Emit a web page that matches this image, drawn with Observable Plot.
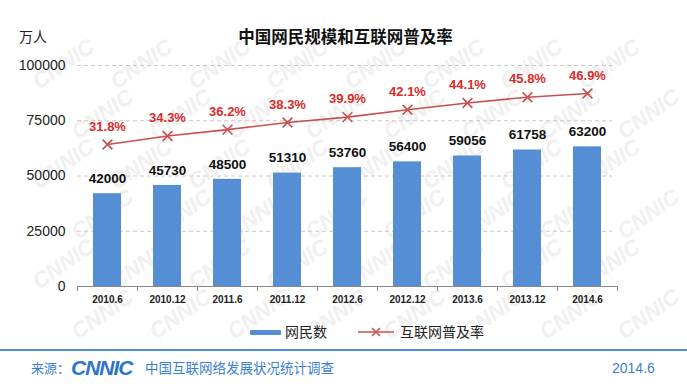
<!DOCTYPE html>
<html>
<head>
<meta charset="utf-8">
<script src="https://cdn.jsdelivr.net/npm/d3@7"></script>
<script src="https://cdn.jsdelivr.net/npm/@observablehq/plot@0.6"></script>
<style>
  html, body { margin: 0; padding: 0; background: #fff; }
  #wrap { position: relative; width: 687px; height: 387px; overflow: hidden; background: #fff;
          font-family: "Liberation Sans", Arial, "Noto Sans CJK SC", sans-serif; }
  #chart { position: absolute; left: 0; top: 0; }
  .abs { position: absolute; white-space: nowrap; line-height: 1; }
  .cjk { font-family: "Noto Sans CJK SC", "Liberation Sans", sans-serif; }
  #wm { position: absolute; left: 0; top: 0; pointer-events: none; }
</style>
</head>
<body>
<div id="wrap">
  <svg id="wm" width="687" height="387"></svg>
  <div id="chart"></div>
  <div class="abs cjk" style="left:19px; top:29px; font-size:14px; color:#222;">万人</div>
  <div class="abs cjk" style="left:0; width:687px; top:28px; text-align:center; font-size:16.5px; font-weight:bold; color:#111; padding-left:2px;">中国网民规模和互联网普及率</div>
  <!-- legend -->
  <div class="abs" style="left:250px; top:330px; width:31px; height:5px; background:#558ed5; border-radius:1px;"></div>
  <div class="abs cjk" style="left:285px; top:324px; font-size:14px; color:#222;">网民数</div>
  <svg class="abs" style="left:356px; top:325px;" width="40" height="14">
    <line x1="2" y1="7" x2="38" y2="7" stroke="#c8504f" stroke-width="1.5"/>
    <path d="M16,3L24,11M24,3L16,11" stroke="#c8504f" stroke-width="1.5"/>
  </svg>
  <div class="abs cjk" style="left:400px; top:324px; font-size:14px; color:#222;">互联网普及率</div>
  <!-- footer -->
  <div class="abs" style="left:0; top:349px; width:687px; height:2px; background:#4a8ede;"></div>
  <div class="abs cjk" style="left:31px; top:361px; font-size:13px; color:#3b7fd4;">来源：</div>
  <div class="abs" style="left:71px; top:357px; font-size:21px; font-weight:bold; font-style:italic; letter-spacing:-1px; color:#2d74cc; font-family:'Liberation Sans',Arial,sans-serif;">CNNIC</div>
  <div class="abs cjk" style="left:145px; top:361px; font-size:13.5px; color:#3b7fd4;">中国互联网络发展状况统计调查</div>
  <div class="abs" style="left:612px; top:361px; font-size:14px; color:#3b7fd4;">2014.6</div>
</div>
<script>
// ---- data ----
const periods = ["2010.6","2010.12","2011.6","2011.12","2012.6","2012.12","2013.6","2013.12","2014.6"];
const netizens = [42000,45730,48500,51310,53760,56400,59056,61758,63200];
const penetration = [31.8,34.3,36.2,38.3,39.9,42.1,44.1,45.8,46.9];
const yTicks = [0,25000,50000,75000,100000];
const yDomain = [0,100000];
// hidden secondary (percentage) axis range, mapped onto the primary axis
const pctDomain = [-10.22, 55.18];

const rows = periods.map((p,i) => ({period: p, value: netizens[i], pct: penetration[i]}));
const pctToY = d3.scaleLinear().domain(pctDomain).range(yDomain);

const W = 687, H = 387, mL = 77, mR = 70, mT = 65, mB = 101;
const half = (W - mL - mR) / periods.length / 2;

const chart = Plot.plot({
  width: W, height: H,
  marginLeft: mL, marginRight: mR, marginTop: mT, marginBottom: mB,
  style: {fontFamily: '"Liberation Sans", Arial, sans-serif', background: "transparent", overflow: "visible"},
  x: {domain: periods, paddingInner: 0.53, paddingOuter: 0.265, label: null},
  y: {domain: yDomain, label: null},
  marks: [
    Plot.ruleY(yTicks.filter(d => d > 0), {y: d => d, stroke: "#c8c8c8", strokeDasharray: "4,3", strokeWidth: 1, insetRight: 5}),
    Plot.axisY(yTicks, {tickSize: 0, tickPadding: 12, fontSize: 14, fill: "#222", label: null, tickFormat: d => String(d)}),
    Plot.barY(rows, {x: "period", y: "value", fill: "#558ed5"}),
    Plot.ruleY([0], {stroke: "#8a8a8a", strokeWidth: 1.2, insetRight: -1}),
    Plot.ruleX(periods, {x: d => d, y1: 0, y2: 0, dx: -half, insetBottom: -5, stroke: "#8a8a8a"}),
    Plot.ruleX(periods.slice(-1), {x: d => d, y1: 0, y2: 0, dx: half, insetBottom: -5, stroke: "#8a8a8a"}),
    Plot.axisX({tickSize: 0, tickPadding: 9, fontSize: 10, fontWeight: "bold", fill: "#222", label: null}),
    Plot.text(rows, {x: "period", y: "value", text: d => String(d.value), dy: -15, fontSize: 13.5, fontWeight: "bold", fill: "#111"}),
    Plot.line(rows, {x: "period", y: d => pctToY(d.pct), stroke: "#c8504f", strokeWidth: 1.6}),
    Plot.dot(rows, {x: "period", y: d => pctToY(d.pct), symbol: "times", r: 4.5, stroke: "#c8504f", strokeWidth: 1.6}),
    Plot.text(rows, {x: "period", y: d => pctToY(d.pct), text: d => d.pct.toFixed(1) + "%", dy: -18, fontSize: 13, fontWeight: "bold", fill: "#dc2a2a"})
  ]
});
document.getElementById("chart").appendChild(chart);

// faint watermark, keeping only the copies that lie fully inside the picture
const wm = document.getElementById("wm");
const NS = "http://www.w3.org/2000/svg";
for (let r = -1; r < 9; r++) {
  for (let c = -1; c < 11; c++) {
    const t = document.createElementNS(NS, "text");
    const x = c * 78 + (r % 2 ? 39 : 0), y = r * 50 + 40;
    t.setAttribute("transform", `translate(${x},${y}) rotate(-35)`);
    t.setAttribute("font-family", "Liberation Sans, Arial, sans-serif");
    t.setAttribute("font-weight", "bold");
    t.setAttribute("font-style", "italic");
    t.setAttribute("font-size", "22");
    t.setAttribute("fill", "#f0f0f0");
    t.textContent = "CNNIC";
    wm.appendChild(t);
    const b = t.getBoundingClientRect();
    if (b.left < 1 || b.top < 1 || b.right > 686 || b.bottom > 386) wm.removeChild(t);
  }
}
</script>
</body>
</html>
